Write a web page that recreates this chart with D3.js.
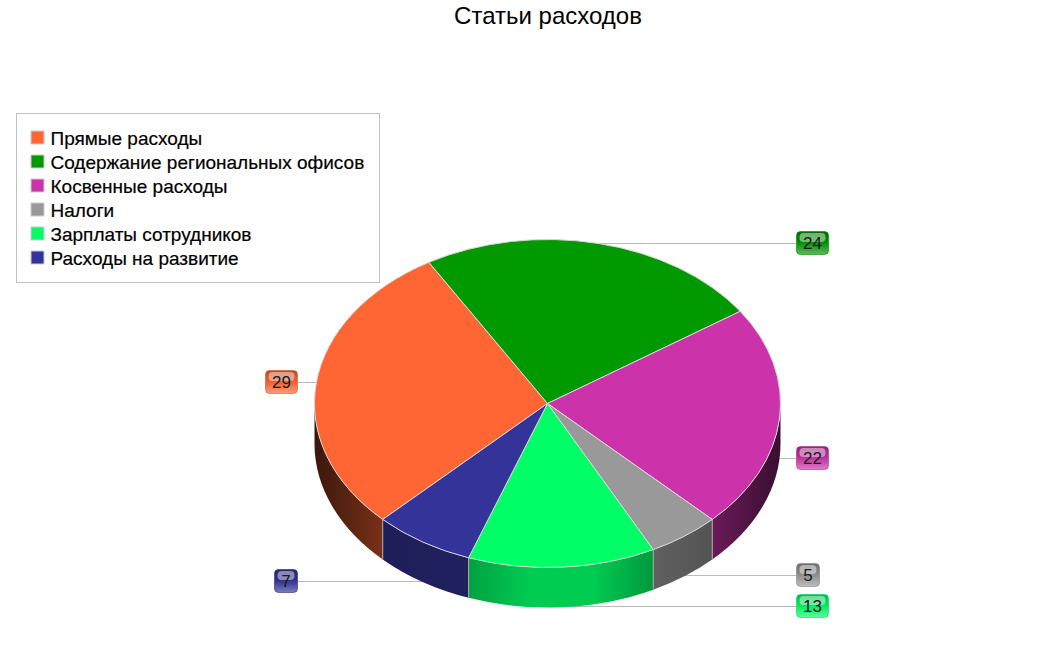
<!DOCTYPE html>
<html>
<head>
<meta charset="utf-8">
<script src="https://cdn.jsdelivr.net/npm/d3@7"></script>
<style>
html, body { margin: 0; padding: 0; background: #fff; }
svg { display: block; }
text { font-family: "Liberation Sans", Arial, sans-serif; }
</style>
</head>
<body>
<div class="chart"></div>
<script>
var title = "Статьи расходов";
var categories = ["Прямые расходы", "Содержание региональных офисов", "Косвенные расходы", "Налоги", "Зарплаты сотрудников", "Расходы на развитие"];
var values = [29, 24, 22, 5, 13, 7];
var colors = ["#ff6633", "#009900", "#cc33aa", "#999999", "#00ff66", "#333399"];

// brightness of the side wall of each slice, left to right
var wallShades = [[0.23, 0.48], [0.6, 0.6], [0.52, 0.28], [0.63, 0.55], [0.63, 0.8, 0.8, 0.6], [0.58, 0.62]];

var cx = 547.5, cy = 403, rx = 233, ry = 164, depth = 40;
var topShift = 0.5;

var svg = d3.select(".chart").append("svg")
    .attr("width", 1050)
    .attr("height", 670);
var defs = svg.append("defs");

function point(angle, drop) {
    return {
        x: cx + rx * Math.sin(angle),
        y: cy + topShift - ry * Math.cos(angle) + (drop || 0)
    };
}

function shade(color, k) {
    var c = d3.rgb(color);
    return d3.rgb(c.r * k, c.g * k, c.b * k).formatHex();
}

function describeWall(a0, a1) {
    var p0 = point(a0), p1 = point(a1);
    var q0 = point(a0, depth), q1 = point(a1, depth);
    return [
        "M", p0.x, p0.y,
        "A", rx, ry, 0, 0, 1, p1.x, p1.y,
        "L", q1.x, q1.y,
        "A", rx, ry, 0, 0, 0, q0.x, q0.y,
        "Z"
    ].join(" ");
}

var pie = d3.pie().sort(null)
    .startAngle(-135 * Math.PI / 180)
    .endAngle(225 * Math.PI / 180);
var slices = pie(values);
var arc = d3.arc().innerRadius(0).outerRadius(rx);

// title
svg.append("text")
    .attr("x", 548)
    .attr("y", 24)
    .attr("text-anchor", "middle")
    .attr("font-size", 24)
    .attr("fill", "#000")
    .text(title);

// leader lines go under the pie
var labelInfo = slices.map(function (s) {
    var mid = (s.startAngle + s.endAngle) / 2;
    var front = Math.cos(mid) < 0.2 && Math.sin(mid) > -0.9;
    var p = point(mid, front ? depth : 0);
    return { slice: s, x: p.x, row: Math.round(p.y - topShift - 0.2), right: Math.sin(mid) > 0 };
});

svg.selectAll(".leader").data(labelInfo).enter().append("line")
    .attr("class", "leader")
    .attr("x1", function (d) { return d.x; })
    .attr("y1", function (d) { return d.row + 0.5; })
    .attr("x2", function (d) { return d.right ? 796 : 298; })
    .attr("y2", function (d) { return d.row + 0.5; })
    .attr("stroke", "#bbbbbb")
    .attr("stroke-width", 1);

// side walls, only the front half of the ellipse shows
var walls = slices.map(function (s) {
    var turn = s.startAngle < -Math.PI / 2 ? 2 * Math.PI : 0;
    return {
        i: s.index,
        a0: Math.max(s.startAngle + turn, Math.PI / 2),
        a1: Math.min(s.endAngle + turn, Math.PI * 1.5)
    };
}).filter(function (w) { return w.a1 > w.a0; });

walls.forEach(function (w) {
    var grad = defs.append("linearGradient").attr("id", "wall" + w.i);
    var stops = wallShades[w.i];
    stops.forEach(function (k, n) {
        grad.append("stop")
            .attr("offset", n / (stops.length - 1))
            .attr("stop-color", shade(colors[w.i], k));
    });
});

svg.selectAll(".wall").data(walls).enter().append("path")
    .attr("class", "wall")
    .attr("d", function (d) { return describeWall(d.a0, d.a1); })
    .attr("fill", function (d) { return "url(#wall" + d.i + ")"; });

// edges between walls
var edges = slices.map(function (s) { return s.startAngle; }).filter(function (a) {
    return a > Math.PI / 2 && a < Math.PI * 1.5;
});
edges.push(slices[0].startAngle + 2 * Math.PI);
svg.selectAll(".edge").data(edges).enter().append("line")
    .attr("class", "edge")
    .attr("x1", function (a) { return point(a).x; })
    .attr("y1", function (a) { return point(a).y; })
    .attr("x2", function (a) { return point(a).x; })
    .attr("y2", function (a) { return point(a, depth).y; })
    .attr("stroke", "#aaaaaa")
    .attr("stroke-width", 1);

// pie top
svg.append("g")
    .attr("transform", "translate(" + cx + "," + (cy + topShift) + ") scale(1," + (ry / rx) + ")")
    .selectAll("path").data(slices).enter().append("path")
    .attr("d", arc)
    .attr("fill", function (d, i) { return colors[i]; })
    .attr("stroke", "#d8d8d8")
    .attr("stroke-width", 1)
    .attr("vector-effect", "non-scaling-stroke");

// value labels
colors.forEach(function (c, i) {
    var g = defs.append("linearGradient").attr("id", "tag" + i)
        .attr("x1", 0).attr("y1", 0).attr("x2", 0).attr("y2", 1);
    g.append("stop").attr("offset", 0).attr("stop-color", shade(c, 0.72));
    g.append("stop").attr("offset", 0.45).attr("stop-color", shade(c, 0.9));
    g.append("stop").attr("offset", 1).attr("stop-color", d3.interpolateRgb(c, "#fff")(0.35));
});

function tagWidth(d) { return String(d.slice.value).length > 1 ? 33 : 24; }

var tags = svg.selectAll(".tag").data(labelInfo).enter().append("g")
    .attr("class", "tag")
    .attr("transform", function (d) {
        var left = d.right ? 796.5 : 298 - tagWidth(d) + 0.5;
        return "translate(" + left + "," + (d.row - 12 + 0.5) + ")";
    });

tags.append("rect")
    .attr("width", function (d) { return tagWidth(d) - 1; })
    .attr("height", 23)
    .attr("rx", 4)
    .attr("fill", function (d) { return "url(#tag" + d.slice.index + ")"; })
    .attr("stroke", function (d) { return shade(colors[d.slice.index], 0.85); })
    .attr("stroke-opacity", 0.6);

tags.append("rect")
    .attr("x", 3)
    .attr("y", 1.5)
    .attr("width", function (d) { return tagWidth(d) - 7; })
    .attr("height", 9)
    .attr("rx", 4)
    .attr("fill", "#fff")
    .attr("fill-opacity", 0.45);

tags.append("text")
    .attr("x", function (d) { return (tagWidth(d) - 1) / 2; })
    .attr("y", 17.5)
    .attr("text-anchor", "middle")
    .attr("font-size", 17)
    .attr("fill", "#1a1a1a")
    .text(function (d) { return d.slice.value; });

// legend
var legend = svg.append("g");
legend.append("rect")
    .attr("x", 16.5)
    .attr("y", 113.5)
    .attr("width", 363)
    .attr("height", 169)
    .attr("fill", "#fff")
    .attr("stroke", "#c0c0c0");

var rows = legend.selectAll(".row").data(categories).enter().append("g")
    .attr("class", "row")
    .attr("transform", function (d, i) { return "translate(0," + (i * 24) + ")"; });

rows.append("rect")
    .attr("x", 31)
    .attr("y", 131)
    .attr("width", 13)
    .attr("height", 13)
    .attr("fill", function (d, i) { return colors[i]; })
    .attr("stroke", "#cccccc")
    .attr("stroke-width", 1);

rows.append("text")
    .attr("x", 50.5)
    .attr("y", 145)
    .attr("font-size", 19)
    .attr("fill", "#000")
    .attr("stroke", "#000")
    .attr("stroke-width", 0.2)
    .text(function (d) { return d; });
</script>
</body>
</html>
